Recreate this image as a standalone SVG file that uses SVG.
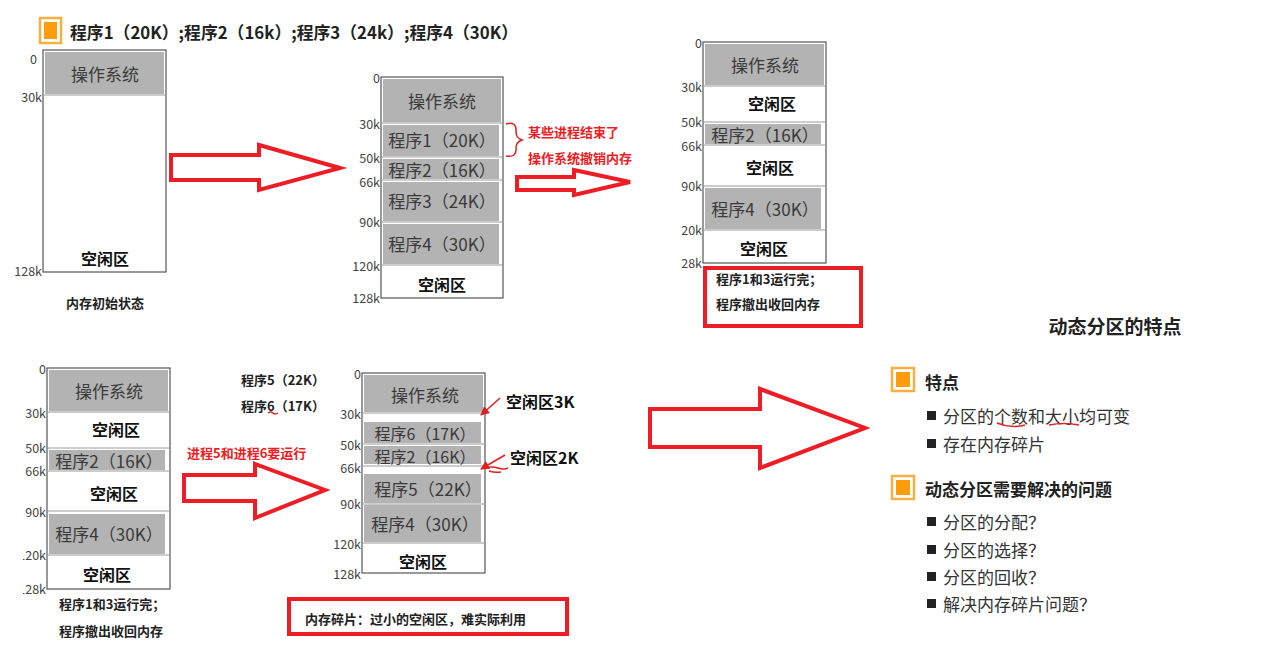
<svg xmlns="http://www.w3.org/2000/svg" width="1281" height="671" viewBox="0 0 1281 671">
<defs>
<style>
text{font-family:"Noto Sans CJK SC","Liberation Sans",sans-serif;}
.box{fill:#fff;stroke:#555;stroke-width:1.2;}
.g{fill:#b3b3b3;}
.div{stroke:#9a9a9a;stroke-width:1;}
.blk{font-size:17px;fill:#3a3a3a;text-anchor:middle;dominant-baseline:central;}
.sm{font-size:16px;}
.free{font-size:16px;font-weight:bold;fill:#111;text-anchor:middle;dominant-baseline:central;}
.lbl{font-size:12.5px;fill:#444;text-anchor:end;dominant-baseline:central;}
.note{font-size:13px;font-weight:bold;fill:#222;dominant-baseline:central;}
.red{font-size:13px;font-weight:bold;fill:#ee1c24;dominant-baseline:central;}
.arrow{fill:none;stroke:#ee1c24;stroke-width:4;stroke-linejoin:miter;}
.rbox{fill:none;stroke:#ee1c24;stroke-width:4;}
.thin{fill:none;stroke:#e02020;stroke-width:1.5;}
.item{font-size:17px;fill:#333;dominant-baseline:central;}
.head{font-size:17px;font-weight:bold;fill:#222;dominant-baseline:central;}
.ob{fill:#fff;stroke:#f7b040;stroke-width:2.5;}
.oi{fill:#fb9d0c;}
.bul{fill:#222;}
</style>
<marker id="ah" viewBox="0 0 10 10" refX="9" refY="5" markerWidth="6" markerHeight="6" orient="auto"><path d="M0,0 L10,5 L0,10 z" fill="#e02020"/></marker>
<clipPath id="c3"><rect x="681" y="0" width="200" height="671"/></clipPath>
<clipPath id="c4"><rect x="23" y="0" width="200" height="671"/></clipPath>
</defs>
<rect width="1281" height="671" fill="#fff"/>

<g id="title">
<rect class="ob" x="40" y="18" width="21" height="25"/>
<rect class="oi" x="44" y="22" width="13" height="17"/>
<text x="70" y="31" font-size="17" font-weight="bold" fill="#222" dominant-baseline="central" textLength="448" lengthAdjust="spacingAndGlyphs">程序1（20K）;程序2（16k）;程序3（24k）;程序4（30K）</text>
</g>

<g id="mem-initial">
<rect class="box" x="43" y="50" width="123" height="222"/>
<rect class="g" x="45" y="52" width="119" height="42"/>
<line class="div" x1="43" y1="95" x2="166" y2="95"/>
<text class="blk" x="105" y="73">操作系统</text>
<text class="free" x="105" y="258">空闲区</text>
<text class="lbl" x="37" y="58">0</text>
<text class="lbl" x="42" y="96">30k</text>
<text class="lbl" x="42" y="270">128k</text>
<text class="note" x="105" y="302" text-anchor="middle" font-size="14">内存初始状态</text>
</g>

<g id="mem-loaded">
<rect class="box" x="381" y="77" width="122" height="221"/>
<rect class="g" x="383" y="79" width="118" height="43"/>
<rect class="g" x="383" y="125" width="116" height="31"/>
<rect class="g" x="383" y="159" width="116" height="20"/>
<rect class="g" x="383" y="182" width="116" height="39"/>
<rect class="g" x="383" y="224" width="116" height="40"/>
<line class="div" x1="381" y1="123" x2="503" y2="123"/>
<line class="div" x1="381" y1="157" x2="503" y2="157"/>
<line class="div" x1="381" y1="180" x2="503" y2="180"/>
<line class="div" x1="381" y1="222" x2="503" y2="222"/>
<line class="div" x1="381" y1="265" x2="503" y2="265"/>
<text class="blk" x="442" y="100">操作系统</text>
<text class="blk" x="442" y="139">程序1（20K）</text>
<text class="blk" x="442" y="169">程序2（16K）</text>
<text class="blk" x="442" y="200">程序3（24K）</text>
<text class="blk" x="442" y="243">程序4（30K）</text>
<text class="free" x="442" y="284">空闲区</text>
<text class="lbl" x="380" y="77">0</text>
<text class="lbl" x="380" y="123">30k</text>
<text class="lbl" x="380" y="157">50k</text>
<text class="lbl" x="380" y="181">66k</text>
<text class="lbl" x="380" y="221">90k</text>
<text class="lbl" x="380" y="265">120k</text>
<text class="lbl" x="380" y="297">128k</text>
<path class="thin" d="M506,124 q11,-3 10,8 q0,6 6,8 q-6,2 -6,8 q1,10 -10,8"/>
<text class="red" x="528" y="131">某些进程结束了</text>
<text class="red" x="528" y="157">操作系统撤销内存</text>
</g>

<g id="mem-freed">
<rect class="box" x="703" y="42" width="123" height="221"/>
<rect class="g" x="705" y="44" width="119" height="41"/>
<rect class="g" x="705" y="124" width="116" height="20"/>
<rect class="g" x="705" y="188" width="116" height="41"/>
<line class="div" x1="703" y1="86" x2="826" y2="86"/>
<line class="div" x1="703" y1="122" x2="826" y2="122"/>
<line class="div" x1="703" y1="145" x2="826" y2="145"/>
<line class="div" x1="703" y1="186" x2="826" y2="186"/>
<line class="div" x1="703" y1="230" x2="826" y2="230"/>
<text class="blk" x="765" y="64">操作系统</text>
<text class="free" x="772" y="103">空闲区</text>
<text class="blk" x="765" y="134">程序2（16K）</text>
<text class="free" x="770" y="167">空闲区</text>
<text class="blk" x="765" y="208">程序4（30K）</text>
<text class="free" x="764" y="248">空闲区</text>
<g clip-path="url(#c3)">
<text class="lbl" x="702" y="42">0</text>
<text class="lbl" x="702" y="86">30k</text>
<text class="lbl" x="702" y="121">50k</text>
<text class="lbl" x="702" y="145">66k</text>
<text class="lbl" x="702" y="185">90k</text>
<text class="lbl" x="702" y="229">120k</text>
<text class="lbl" x="702" y="262">128k</text>
</g>
<rect class="rbox" x="705" y="268" width="156" height="58"/>
<text class="note" x="716" y="278">程序1和3运行完；</text>
<text class="note" x="716" y="303">程序撤出收回内存</text>
</g>

<g id="mem-freed-2">
<rect class="box" x="47" y="368" width="123" height="221"/>
<rect class="g" x="49" y="370" width="119" height="41"/>
<rect class="g" x="49" y="450" width="116" height="20"/>
<rect class="g" x="49" y="514" width="116" height="40"/>
<line class="div" x1="47" y1="412" x2="170" y2="412"/>
<line class="div" x1="47" y1="448" x2="170" y2="448"/>
<line class="div" x1="47" y1="471" x2="170" y2="471"/>
<line class="div" x1="47" y1="511" x2="170" y2="511"/>
<line class="div" x1="47" y1="555" x2="170" y2="555"/>
<text class="blk" x="109" y="390">操作系统</text>
<text class="free" x="116" y="429">空闲区</text>
<text class="blk" x="109" y="460">程序2（16K）</text>
<text class="free" x="114" y="493">空闲区</text>
<text class="blk" x="109" y="533">程序4（30K）</text>
<text class="free" x="107" y="574">空闲区</text>
<g clip-path="url(#c4)">
<text class="lbl" x="46" y="368">0</text>
<text class="lbl" x="46" y="412">30k</text>
<text class="lbl" x="46" y="447">50k</text>
<text class="lbl" x="46" y="470">66k</text>
<text class="lbl" x="46" y="511">90k</text>
<text class="lbl" x="46" y="554">120k</text>
<text class="lbl" x="46" y="588">128k</text>
</g>
<text class="note" x="59" y="603">程序1和3运行完；</text>
<text class="note" x="59" y="630">程序撤出收回内存</text>
</g>

<g id="new-procs">
<text class="note" x="241" y="379">程序5（22K）</text>
<text class="note" x="241" y="405">程序6（17K）</text>
<path class="thin" d="M268,413 q3,-2 5,0 t5,0" stroke-width="1.2"/>
<text class="red" x="187" y="452">进程5和进程6要运行</text>
</g>

<g id="mem-fragment">
<rect class="box" x="362" y="373" width="123" height="200"/>
<rect class="g" x="364" y="375" width="119" height="37"/>
<rect class="g" x="364" y="422" width="117" height="21"/>
<rect class="g" x="364" y="446" width="117" height="18"/>
<rect class="g" x="364" y="474" width="117" height="29"/>
<rect class="g" x="364" y="505" width="117" height="37"/>
<line class="div" x1="362" y1="413" x2="485" y2="413"/>
<line class="div" x1="362" y1="444" x2="485" y2="444"/>
<line class="div" x1="362" y1="466" x2="485" y2="466"/>
<line class="div" x1="362" y1="504" x2="485" y2="504"/>
<line class="div" x1="362" y1="543" x2="485" y2="543"/>
<text class="blk" x="425" y="394">操作系统</text>
<text class="blk sm" x="425" y="433">程序6（17K）</text>
<text class="blk sm" x="425" y="456">程序2（16K）</text>
<text class="blk" x="428" y="488">程序5（22K）</text>
<text class="blk" x="425" y="523">程序4（30K）</text>
<text class="free" x="423" y="561">空闲区</text>
<text class="lbl" x="361" y="373">0</text>
<text class="lbl" x="361" y="413">30k</text>
<text class="lbl" x="361" y="444">50k</text>
<text class="lbl" x="361" y="467">66k</text>
<text class="lbl" x="361" y="503">90k</text>
<text class="lbl" x="361" y="543">120k</text>
<text class="lbl" x="361" y="573">128k</text>
<text x="506" y="401" font-size="16" font-weight="bold" fill="#111" dominant-baseline="central">空闲区3K</text>
<text x="510" y="457" font-size="16" font-weight="bold" fill="#111" dominant-baseline="central">空闲区2K</text>
<path class="thin" d="M484,468 q8,-2 14,0 q5,2 10,0 M489,471 q6,2 12,1"/>
<rect class="rbox" x="289" y="599" width="278" height="35"/>
<text class="note" x="305" y="618">内存碎片：过小的空闲区，难实际利用</text>
</g>

<g id="connectors">
<path class="arrow" d="M171,155 L259,155 L259,145 L340,168 L259,190 L259,180 L171,180 Z"/>
<path class="arrow" d="M517,177 L574,177 L574,170 L630,182 L574,195 L574,190 L517,190 Z"/>
<path class="arrow" d="M184,475 L255,475 L255,464 L325,490 L255,518 L255,501 L184,501 Z"/>
<path class="arrow" d="M650,409 L760,409 L760,389 L865,428 L760,468 L760,447 L650,447 Z"/>
<line x1="500" y1="398" x2="481" y2="415" stroke="#e02020" stroke-width="1.5" marker-end="url(#ah)"/>
<line x1="505" y1="455" x2="481" y2="469" stroke="#e02020" stroke-width="1.5" marker-end="url(#ah)"/>
</g>

<g id="features">
<text x="1115" y="325" font-size="19" font-weight="bold" fill="#222" text-anchor="middle" dominant-baseline="central">动态分区的特点</text>
<rect class="ob" x="892" y="368" width="22" height="23"/>
<rect class="oi" x="896" y="372" width="14" height="15"/>
<text class="head" x="925" y="381">特点</text>
<rect class="bul" x="927" y="411" width="9" height="9"/>
<text class="item" x="943" y="415">分区的个数和大小均可变</text>
<path class="thin" d="M997,423 q14,6 28,2 M1049,425 q15,-3 30,0" stroke-width="1.3"/>
<rect class="bul" x="927" y="439" width="9" height="9"/>
<text class="item" x="943" y="443">存在内存碎片</text>
<rect class="ob" x="892" y="476" width="22" height="23"/>
<rect class="oi" x="896" y="480" width="14" height="15"/>
<text class="head" x="925" y="488">动态分区需要解决的问题</text>
<rect class="bul" x="927" y="517" width="9" height="9"/>
<text class="item" x="943" y="521">分区的分配？</text>
<rect class="bul" x="927" y="545" width="9" height="9"/>
<text class="item" x="943" y="549">分区的选择？</text>
<rect class="bul" x="927" y="572" width="9" height="9"/>
<text class="item" x="943" y="576">分区的回收？</text>
<rect class="bul" x="927" y="599" width="9" height="9"/>
<text class="item" x="943" y="603">解决内存碎片问题？</text>
</g>
</svg>
